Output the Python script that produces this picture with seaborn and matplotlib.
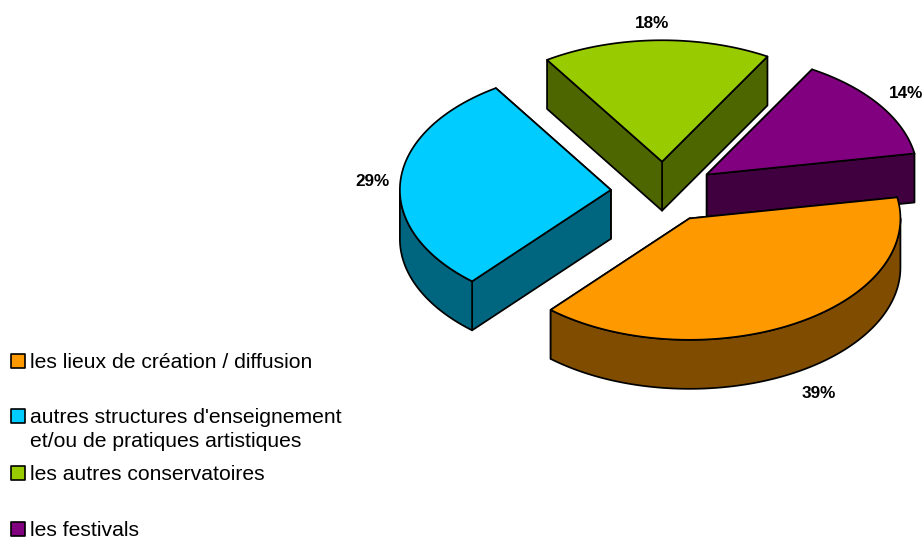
"""exploded 3D pie of partner structures, projected by hand onto a flat axes"""

import numpy as np
import seaborn as sns
import matplotlib.pyplot as plt

# data
labels = ["les lieux de création / diffusion",
          "autres structures d'enseignement\net/ou de pratiques artistiques",
          "les autres conservatoires",
          "les festivals"]
shares = [39.2, 29.4, 17.5, 13.9]
top_colors = ["#FF9900", "#00CCFF", "#99CC00", "#800080"]
side_colors = ["#804D00", "#006680", "#4D6600", "#400040"]

# pie geometry, in pixels of the 923x537 canvas
CX, CY = 663.5, 192
RX, RY = 211, 121.4
DEPTH = 49
EXPLODE = 0.25
START = 370  # orange starts here and the slices run clockwise
LINE = 1.25

sns.set_theme(style="white")
plt.rcParams["font.family"] = ["Liberation Sans", "DejaVu Sans"]

fig = plt.figure(figsize=(9.23, 5.37), dpi=100)
ax = fig.add_axes([0, 0, 1, 1])
ax.set_xlim(0, 923)
ax.set_ylim(537, 0)
ax.axis("off")


def project(angle, r=1.0, ox=CX, oy=CY):
    a = np.radians(angle)
    return ox + r * RX * np.cos(a), oy - r * RY * np.sin(a)


def poly(xs, ys, color):
    ax.fill(xs, ys, facecolor=color, edgecolor="black", linewidth=LINE, joinstyle="round")


def draw_slice(a0, a1, top, side):
    """a0 < a1 in degrees; radial walls first, then the rim, then the lid"""
    ox, oy = project((a0 + a1) / 2, EXPLODE)
    # the wall reaching furthest back goes first
    for a in sorted((a0, a1), key=lambda v: -np.sin(np.radians(v))):
        x, y = project(a, 1, ox, oy)
        poly([ox, x, x, ox], [oy, y, y + DEPTH, oy + DEPTH], side)
    # rim only shows on the front half of the ellipse
    lo, hi = max(a0, 180), min(a1, 360)
    if hi > lo:
        t = np.linspace(lo, hi, 120)
        x, y = project(t, 1, ox, oy)
        poly(np.r_[x, x[::-1]], np.r_[y, y[::-1] + DEPTH], side)
    t = np.linspace(a0, a1, 160)
    x, y = project(t, 1, ox, oy)
    poly(np.r_[ox, x], np.r_[oy, y], top)


# slice angles from the values, going clockwise from START
ends = START - np.cumsum(shares) * 3.6
begins = np.r_[START, ends[:-1]]
# back to front: green, purple, blue, orange
for i in [2, 3, 1, 0]:
    draw_slice(ends[i], begins[i], top_colors[i], side_colors[i])

# percent labels
label_pos = [(819, 394), (373, 182), (652, 24), (906, 94)]
for share, (x, y) in zip(shares, label_pos):
    ax.text(x, y, f"{share:.0f}%", ha="center", va="center", fontsize=12.3,
            fontweight="bold", color="black")

# legend, spaced by hand since the gaps are uneven
legend_y = [361, 416, 473, 529]
sns.scatterplot(x=[18] * 4, y=legend_y, hue=labels, palette=top_colors, marker="s", s=92,
                edgecolor="black", linewidth=1.2, legend=False, ax=ax, clip_on=False, zorder=5)
for label, y in zip(labels, legend_y):
    ax.text(30, y - 8, label, ha="left", va="top", fontsize=15.2, color="black",
            linespacing=1.33)

fig.savefig("out.png", dpi=100)
